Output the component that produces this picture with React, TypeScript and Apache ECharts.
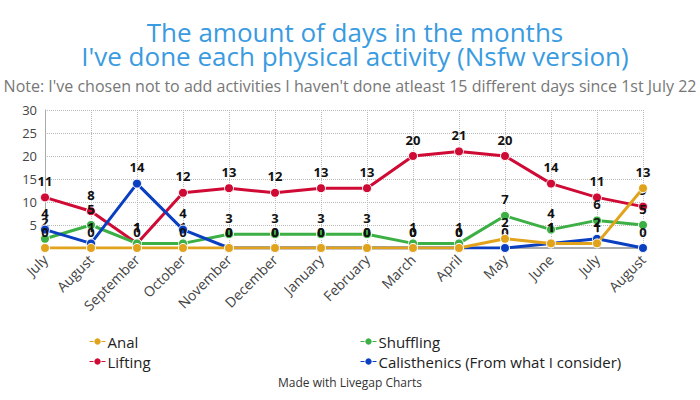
import React, { useEffect, useRef } from "react";
import * as echarts from "echarts";

const months = [
  "July", "August", "September", "October", "November", "December", "January",
  "February", "March", "April", "May", "June", "July", "August",
];

const anal = [0, 0, 0, 0, 0, 0, 0, 0, 0, 0, 2, 1, 1, 13];
const lifting = [11, 8, 1, 12, 13, 12, 13, 13, 20, 21, 20, 14, 11, 9];
const shuffling = [2, 5, 1, 1, 3, 3, 3, 3, 1, 1, 7, 4, 6, 5];
const calisthenics = [4, 1, 14, 4, 0, 0, 0, 0, 0, 0, 0, 1, 2, 0];

const yTicks = { min: 0, max: 30, interval: 5 };

const FONT = "'Open Sans', 'Noto Sans', sans-serif";

const COLORS = {
  anal: "#e2a31c",
  lifting: "#cf0a35",
  shuffling: "#3caf45",
  calisthenics: "#0b3fc2",
};

function lineSeries(name: string, data: number[], color: string, z: number) {
  return {
    name,
    type: "line",
    data,
    z,
    symbol: "circle",
    symbolSize: 9,
    showAllSymbol: true,
    lineStyle: { color, width: 3 },
    itemStyle: { color, borderColor: "#fff", borderWidth: 1 },
    label: {
      show: true,
      position: "top",
      distance: 5,
      color: "#111",
      fontFamily: FONT,
      fontWeight: "bold",
      fontSize: 13,
    },
    emphasis: { disabled: true },
  };
}

export default function App() {
  const ref = useRef<HTMLDivElement>(null);

  useEffect(() => {
    if (!ref.current) return;
    const chart = echarts.init(ref.current, undefined, { renderer: "svg" });
    const legendCommon = {
      orient: "vertical",
      itemWidth: 16,
      itemHeight: 8,
      itemGap: 5,
      textStyle: { fontFamily: FONT, fontSize: 15, color: "#222", padding: [0, 0, 0, -3] },
      lineStyle: { type: "dashed", width: 1 },
      itemStyle: { borderWidth: 0 },
    };
    chart.setOption({
      animation: false,
      backgroundColor: "#fff",
      title: [
        {
          text: "The amount of days in the months\nI've done each physical activity (Nsfw version)",
          left: 350,
          top: 15,
          textAlign: "center",
          textStyle: {
            fontFamily: FONT,
            fontSize: 26,
            lineHeight: 24,
            fontWeight: "normal",
            color: "#3a9be0",
          },
        },
        {
          text: "Note: I've chosen not to add activities I haven't done atleast 15 different days since 1st July 22",
          left: "center",
          top: 73,
          textStyle: {
            fontFamily: FONT,
            fontSize: 16,
            fontWeight: "normal",
            color: "#777",
          },
        },
        {
          text: "Made with Livegap Charts",
          left: "center",
          top: 371,
          textStyle: {
            fontFamily: FONT,
            fontSize: 12,
            fontWeight: "normal",
            color: "#333",
          },
        },
      ],
      legend: [
        {
          ...legendCommon,
          left: 84,
          top: 329,
          data: ["Anal", "Lifting"],
        },
        {
          ...legendCommon,
          left: 355,
          top: 329,
          data: ["Shuffling", "Calisthenics (From what I consider)"],
        },
      ],
      grid: { left: 45, right: 57, top: 110, bottom: 152, containLabel: false },
      xAxis: {
        type: "category",
        data: months,
        boundaryGap: false,
        axisLine: { show: true, lineStyle: { color: "#aaa", width: 2 } },
        axisTick: { show: false },
        axisLabel: {
          rotate: 45,
          interval: 0,
          margin: 9,
          fontFamily: FONT,
          fontSize: 14,
          color: "#444",
        },
        splitLine: {
          show: true,
          lineStyle: { type: "dotted", color: "#bbb", width: 1 },
        },
      },
      yAxis: {
        type: "value",
        ...yTicks,
        axisLine: { show: true, lineStyle: { color: "#aaa", width: 1 } },
        axisTick: { show: false },
        axisLabel: {
          margin: 8,
          fontFamily: FONT,
          fontSize: 13,
          color: "#444",
          formatter: (v: number) => (v === 0 ? "" : String(v)),
        },
        splitLine: {
          show: true,
          lineStyle: { type: "dotted", color: "#bbb", width: 1 },
        },
      },
      series: [
        lineSeries("Lifting", lifting, COLORS.lifting, 2),
        lineSeries("Shuffling", shuffling, COLORS.shuffling, 3),
        lineSeries("Calisthenics (From what I consider)", calisthenics, COLORS.calisthenics, 4),
        lineSeries("Anal", anal, COLORS.anal, 5),
      ],
    });
    return () => chart.dispose();
  }, []);

  return <div ref={ref} style={{ width: 700, height: 400, position: "absolute", left: 0, top: 0 }} />;
}
